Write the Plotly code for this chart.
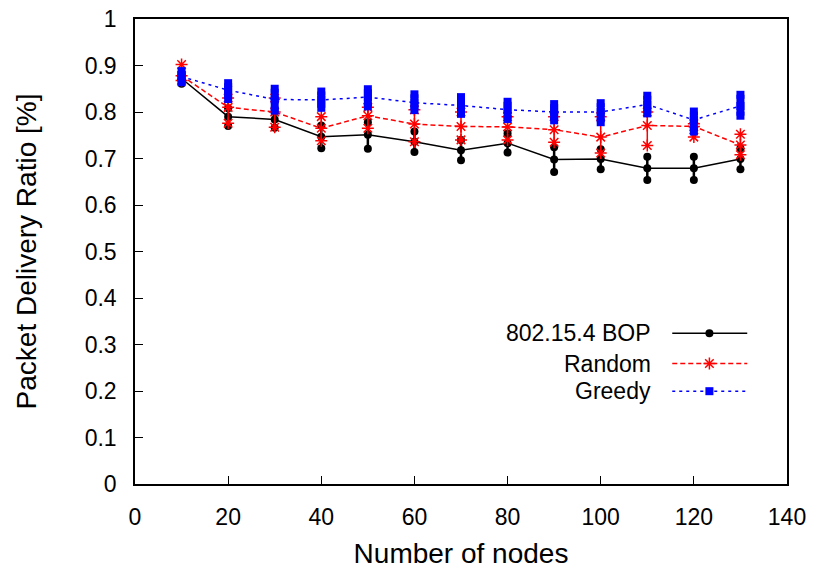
import plotly.graph_objects as go

nodes = [10, 20, 30, 40, 50, 60, 70, 80, 90, 100, 110, 120, 130]

bop_mean = [0.872, 0.790, 0.784, 0.747, 0.751, 0.736, 0.718, 0.733, 0.698, 0.699, 0.679, 0.679, 0.699]
bop_low  = [0.861, 0.770, 0.766, 0.722, 0.721, 0.714, 0.696, 0.713, 0.671, 0.677, 0.654, 0.654, 0.677]
bop_high = [0.880, 0.808, 0.800, 0.771, 0.778, 0.758, 0.740, 0.754, 0.724, 0.720, 0.704, 0.704, 0.722]

rnd_mean = [0.878, 0.810, 0.800, 0.765, 0.792, 0.774, 0.769, 0.768, 0.762, 0.746, 0.771, 0.769, 0.729]
rnd_low  = [0.868, 0.776, 0.767, 0.738, 0.765, 0.736, 0.740, 0.740, 0.735, 0.712, 0.728, 0.746, 0.708]
rnd_high = [0.902, 0.830, 0.830, 0.790, 0.810, 0.805, 0.800, 0.790, 0.790, 0.790, 0.800, 0.775, 0.752]

grd_mean = [0.876, 0.847, 0.827, 0.826, 0.832, 0.820, 0.814, 0.805, 0.800, 0.800, 0.816, 0.783, 0.813]
grd_low  = [0.864, 0.828, 0.803, 0.809, 0.812, 0.804, 0.796, 0.785, 0.782, 0.778, 0.797, 0.758, 0.792]
grd_high = [0.888, 0.862, 0.850, 0.844, 0.849, 0.838, 0.832, 0.822, 0.817, 0.819, 0.835, 0.801, 0.837]

labels = ["802.15.4 BOP", "Random", "Greedy"]

FS = 23

series = [
    (labels[0], bop_mean, bop_low, bop_high, "black", "solid", 2.5,
     dict(symbol="circle", size=8, color="black")),
    (labels[1], rnd_mean, rnd_low, rnd_high, "red", "5px,3px", 1.5,
     dict(symbol="asterisk-open", size=10, color="red", line=dict(color="red", width=1.5))),
    (labels[2], grd_mean, grd_low, grd_high, "blue", "3px,4px", 8,
     dict(symbol="square", size=8, color="blue")),
]

fig = go.Figure()
for name, m, lo, hi, col, dash, eb, mk in series:
    fig.add_trace(go.Scatter(
        x=nodes, y=m, mode="lines+markers", name=name, showlegend=False,
        line=dict(color=col, width=1.5, dash=dash), marker=mk,
        error_y=dict(type="data", symmetric=False,
                     array=[h - v for h, v in zip(hi, m)],
                     arrayminus=[v - l for v, l in zip(m, lo)],
                     color=col, thickness=eb, width=0)))
    fig.add_trace(go.Scatter(
        x=nodes + nodes, y=lo + hi, mode="markers", showlegend=False,
        marker=mk, hoverinfo="skip"))

# custom gnuplot-style key (text right-aligned, sample to the right)
key_y = [0.324, 0.259, 0.1996]
for (name, m, lo, hi, col, dash, eb, mk), ky in zip(series, key_y):
    fig.add_annotation(x=0.795, y=ky, xref="paper", yref="paper", text=name,
                       showarrow=False, xanchor="right", yanchor="middle",
                       font=dict(size=FS, color="black"))
    fig.add_trace(go.Scatter(
        x=[0.824, 0.939], y=[ky, ky], xaxis="x2", yaxis="y2", mode="lines",
        line=dict(color=col, width=1.5, dash=dash), showlegend=False, hoverinfo="skip"))
    fig.add_trace(go.Scatter(
        x=[0.881], y=[ky], xaxis="x2", yaxis="y2", mode="markers",
        marker=mk, showlegend=False, hoverinfo="skip"))

axis_common = dict(showgrid=False, zeroline=False, showline=True, linecolor="black",
                   linewidth=1.5, mirror=True, ticks="inside", ticklen=8,
                   tickcolor="black", tickwidth=1, automargin=False)

fig.update_layout(
    width=817, height=569,
    margin=dict(l=135, r=30, t=19, b=85),
    paper_bgcolor="white", plot_bgcolor="white",
    font=dict(family="Liberation Sans, Arial, sans-serif", size=FS, color="black"),
    showlegend=False,
    xaxis=dict(range=[0, 140], tick0=0, dtick=20, ticklabelstandoff=12,
               title=dict(text="Number of nodes", standoff=14), **axis_common),
    yaxis=dict(range=[0, 1], tick0=0, dtick=0.1, ticklabelstandoff=12,
               title=dict(text="Packet Delivery Ratio [%]", standoff=40), **axis_common),
    xaxis2=dict(overlaying="x", range=[0, 1], visible=False),
    yaxis2=dict(overlaying="y", range=[0, 1], visible=False),
)

fig.write_html("out.html", config={"displayModeBar": False},
               post_script="document.body.style.margin='0';document.body.style.overflow='hidden';")
